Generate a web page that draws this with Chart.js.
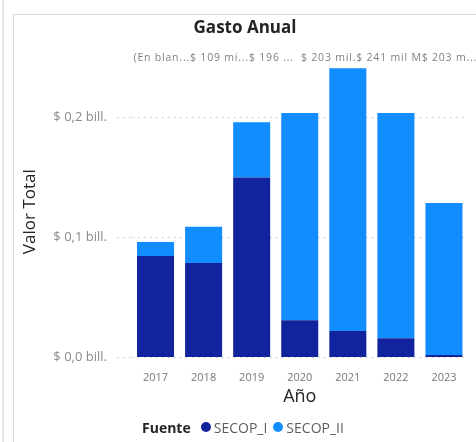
<!DOCTYPE html>
<html>
<head>
<meta charset="utf-8">
<script src="https://cdn.jsdelivr.net/npm/chart.js@4.4.1/dist/chart.umd.min.js"></script>
<style>
  html, body { margin: 0; padding: 0; background: #fff; overflow: hidden; }
  #wrap { position: relative; width: 476px; height: 442px; }
  #chart { position: absolute; left: 0; top: 0; }
  .edge { position: absolute; left: 2px; top: 0; width: 2px; height: 442px; background: #e4e4e4; }
  .panel { position: absolute; left: 13px; top: 14px; width: 480px; height: 440px; border: 1px solid #dadada; }
  #legend { position: absolute; left: 142px; top: 417px; height: 20px; display: flex; align-items: center;
    font: 14px 'Open Sans', sans-serif; color: #605e5c; }
  #legend b { color: #252423; margin-right: 10px; }
  #legend .dot { width: 10px; height: 10px; border-radius: 50%; display: inline-block; margin-right: 3px; }
  #legend .item { display: flex; align-items: center; margin-right: 6px; }
</style>
</head>
<body>
<div id="wrap">
  <div class="edge"></div>
  <div class="panel"></div>
  <canvas id="chart" width="476" height="442"></canvas>
  <div id="legend"></div>
</div>
<script>
// values in billones de pesos
const years = ['2017', '2018', '2019', '2020', '2021', '2022', '2023'];
const secopI = [0.0846, 0.0788, 0.150, 0.031, 0.022, 0.016, 0.002];
const secopII = [0.0117, 0.0302, 0.046, 0.1728, 0.219, 0.1878, 0.1268];
const yTicks = [0, 0.1, 0.2];
const topLabels = ['(En blan...', '$ 109 mi...', '$ 196 ...  ', '$ 203 mil.', '$ 241 mil M', '$ 203 m...'];

const darkBlue = '#12239e';
const lightBlue = '#118dff';

Chart.defaults.font.family = "'Open Sans', sans-serif";

const topLabelsPlugin = {
  id: 'topLabels',
  afterDraw (chart) {
    const { ctx, chartArea } = chart;
    ctx.save();
    ctx.font = "10.5px 'Open Sans', sans-serif";
    ctx.letterSpacing = '0.8px';
    ctx.fillStyle = '#808080';
    ctx.textBaseline = 'middle';
    ctx.textAlign = 'left';
    ctx.fillText(topLabels.join(''), chartArea.left + 2, chartArea.top - 8);
    ctx.restore();
  },
};

const chart = new Chart(document.getElementById('chart'), {
  type: 'bar',
  data: {
    labels: years,
    datasets: [
      { label: 'SECOP_I', data: secopI, backgroundColor: darkBlue },
      { label: 'SECOP_II', data: secopII, backgroundColor: lightBlue },
    ],
  },
  options: {
    responsive: false,
    animation: false,
    categoryPercentage: 1,
    barPercentage: 0.77,
    layout: { padding: { left: 22, right: 8, top: 15, bottom: 30 } },
    plugins: {
      legend: { display: false },
      tooltip: { enabled: false },
      title: {
        display: true,
        text: 'Gasto Anual',
        color: '#252423',
        font: { size: 17, weight: 'bold', lineHeight: 1.2 },
        padding: { top: 2.8, bottom: 27.8 },
      },
    },
    scales: {
      x: {
        stacked: true,
        grid: { display: false },
        border: { display: false },
        ticks: { color: '#777', font: { size: 11 }, padding: 6 },
        title: {
          display: true,
          text: 'Año',
          color: '#252423',
          font: { size: 18, lineHeight: 1.2 },
          padding: { top: 0, bottom: 4.2 },
        },
        afterFit (scale) { scale.height = 54.5; },
      },
      y: {
        stacked: true,
        min: 0,
        max: 0.2429,
        afterBuildTicks (scale) { scale.ticks = yTicks.map((v) => ({ value: v })); },
        afterFit (scale) { scale.width = 109.5; },
        border: { display: false, dash: [1.5, 4.5] },
        grid: {
          color: '#c8c8c8',
          tickColor: '#c8c8c8',
          tickBorderDash: [1.5, 4.5],
          tickLength: 14.5,
        },
        ticks: {
          color: '#8a8a8a',
          font: { size: 13 },
          padding: 10,
          callback: (v) => '$ ' + v.toFixed(1).replace('.', ',') + ' bill.',
        },
        title: {
          display: true,
          text: 'Valor Total',
          color: '#252423',
          font: { size: 17, lineHeight: 1.2 },
          padding: { top: -2, bottom: 0 },
        },
      },
    },
  },
  plugins: [topLabelsPlugin],
});

// legend
const $legend = document.getElementById('legend');
$legend.innerHTML = '<b>Fuente</b>' + chart.data.datasets.map((d) =>
  `<span class="item"><span class="dot" style="background:${d.backgroundColor}"></span>${d.label}</span>`).join('');
</script>
</body>
</html>
